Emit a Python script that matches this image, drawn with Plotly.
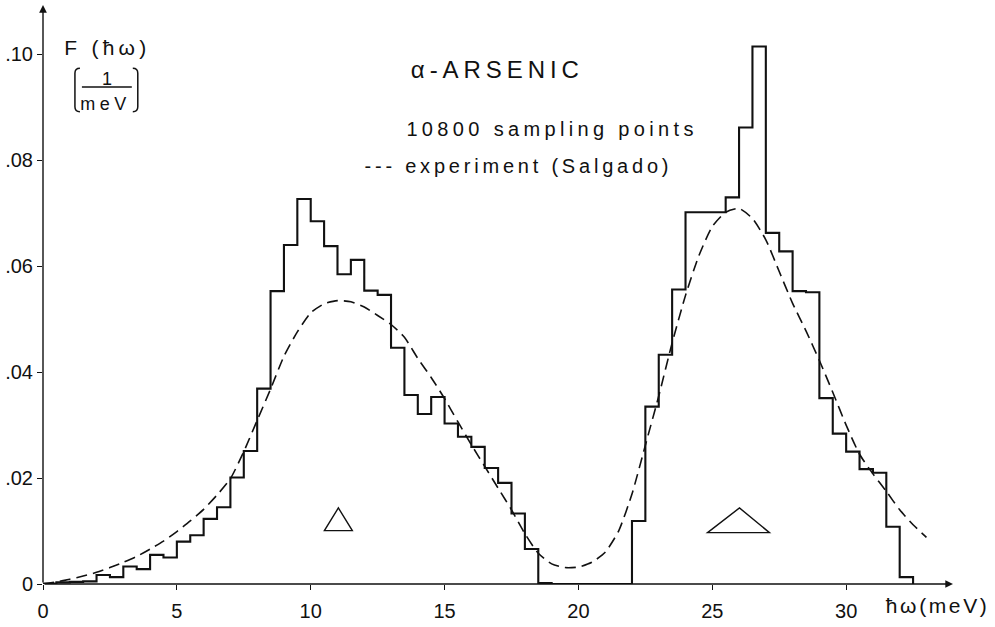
import json
import plotly.graph_objects as go

# Computed frequency distribution F(hw), bins of 0.5 meV starting at 0 meV
bin_width = 0.5
hist_values = [
    0.0001, 0.0003, 0.0004, 0.0005, 0.0017, 0.0013, 0.0033, 0.0028,
    0.0055, 0.0050, 0.0080, 0.0092, 0.0123, 0.0145, 0.0201, 0.0251,
    0.0369, 0.0553, 0.0640, 0.0727, 0.0685, 0.0638, 0.0585, 0.0612,
    0.0554, 0.0546, 0.0446, 0.0357, 0.0321, 0.0353, 0.0303, 0.0278,
    0.0259, 0.0219, 0.0191, 0.0133, 0.0066, 0.0002, 0.0, 0.0,
    0.0, 0.0, 0.0, 0.0, 0.0119, 0.0335, 0.0433, 0.0556,
    0.0702, 0.0702, 0.0702, 0.0730, 0.0862, 0.1015, 0.0663, 0.0628,
    0.0553, 0.0551, 0.0351, 0.0284, 0.0250, 0.0217, 0.0210, 0.0108,
    0.0013,
]

# Measured spectrum (Salgado)
exp_energy = [
    0, 0.5, 1, 1.5, 2, 2.5, 3, 3.5, 4, 4.5, 5, 5.5, 6, 6.5, 7, 7.5, 8, 8.5,
    9, 9.5, 10, 10.5, 11, 11.5, 12, 12.5, 13, 13.5, 14, 14.5, 15, 15.5, 16,
    16.5, 17, 17.5, 18, 18.5, 19, 19.5, 20, 20.5, 21, 21.5, 22, 22.5, 23,
    23.5, 24, 24.5, 25, 25.5, 26, 26.5, 27, 27.5, 28, 28.5, 29, 29.5, 30,
    30.5, 31, 31.5, 32, 32.5, 33,
]
exp_values = [
    0.0, 0.0004, 0.0009, 0.0015, 0.0022, 0.0031, 0.0041, 0.0052, 0.0066,
    0.0081, 0.0099, 0.0119, 0.0141, 0.0168, 0.0199, 0.0250, 0.0309, 0.0368,
    0.0430, 0.0476, 0.0512, 0.0529, 0.0535, 0.0533, 0.0523, 0.0507, 0.0490,
    0.0466, 0.0426, 0.0390, 0.0350, 0.0306, 0.0263, 0.0222, 0.0181, 0.0140,
    0.0095, 0.0058, 0.0038, 0.0031, 0.0032, 0.0041, 0.0060, 0.0100, 0.0170,
    0.0262, 0.0355, 0.0455, 0.0545, 0.0620, 0.0675, 0.0702, 0.0709, 0.0690,
    0.0650, 0.0590, 0.0530, 0.0478, 0.0422, 0.0362, 0.0300, 0.0245, 0.0208,
    0.0175, 0.0140, 0.0112, 0.0088,
]

x_ticks = [0, 5, 10, 15, 20, 25, 30]
x_tick_text = ["0", "5", "10", "15", "20", "25", "30"]
y_ticks = [0, 0.02, 0.04, 0.06, 0.08, 0.10]
y_tick_text = ["0", ".02", ".04", ".06", ".08", ".10"]

# ---- page geometry ----
W, H = 995, 627
ML, MR, MT, MB = 41, 34, 5, 36
PW, PH = W - ML - MR, H - MT - MB
X_MAX = 34.29
Y_MAX = 0.10933


def dx(px):
    """page pixel column -> energy axis value"""
    return (px - ML) / PW * X_MAX


def dy(py):
    """page pixel row -> F axis value"""
    return (H - MB - py) / PH * Y_MAX


def ppx(px):
    """page pixel column -> paper fraction"""
    return (px - ML) / PW


def ppy(py):
    """page pixel row -> paper fraction"""
    return (H - MB - py) / PH


FONT = "Liberation Sans"
INK = "#111111"

edges = [i * bin_width for i in range(len(hist_values) + 1)]

fig = go.Figure()
fig.add_trace(go.Scatter(
    x=exp_energy, y=exp_values, mode="lines",
    line=dict(color=INK, width=1.6, dash="11px,6px", shape="spline", smoothing=0.6),
    cliponaxis=False, hoverinfo="skip", showlegend=False,
))
fig.add_trace(go.Scatter(
    x=edges, y=hist_values + [0.0], mode="lines",
    line=dict(color=INK, width=2.1, shape="hv"),
    cliponaxis=False, hoverinfo="skip", showlegend=False,
))

shapes = []
# resolution triangles
for pts in ([(323, 537), (351, 537), (337, 514)],
            [(707, 539), (769, 539), (739, 514)]):
    path = "M {} {} L {} {} L {} {} Z".format(
        dx(pts[0][0]), dy(pts[0][1]), dx(pts[1][0]), dy(pts[1][1]),
        dx(pts[2][0]), dy(pts[2][1]))
    shapes.append(dict(type="path", path=path, xref="x", yref="y",
                       line=dict(color=INK, width=1.4)))

# fraction bar and brackets of the unit 1/meV
shapes.append(dict(type="line", xref="x", yref="y",
                   x0=dx(80), x1=dx(130), y0=dy(88), y1=dy(88),
                   line=dict(color=INK, width=1.5)))
left_br = "M {} {} Q {} {} {} {} L {} {} Q {} {} {} {}".format(
    dx(78), dy(69), dx(73), dy(69), dx(73), dy(74),
    dx(73), dy(108), dx(73), dy(113), dx(78), dy(113))
right_br = "M {} {} Q {} {} {} {} L {} {} Q {} {} {} {}".format(
    dx(131), dy(69), dx(136), dy(69), dx(136), dy(74),
    dx(136), dy(108), dx(136), dy(113), dx(131), dy(113))
for p in (left_br, right_br):
    shapes.append(dict(type="path", path=p, xref="x", yref="y",
                       line=dict(color=INK, width=1.5)))

annotations = [
    # axes drawn as arrows
    dict(x=dx(953), y=0, ax=0, ay=0, xref="x", yref="y", axref="x", ayref="y",
         text="", showarrow=True, arrowhead=2, arrowsize=1.1, arrowwidth=1.4,
         arrowcolor=INK, standoff=0, startstandoff=0),
    dict(x=0, y=dy(5), ax=0, ay=0, xref="x", yref="y", axref="x", ayref="y",
         text="", showarrow=True, arrowhead=2, arrowsize=1.1, arrowwidth=1.4,
         arrowcolor=INK, standoff=0, startstandoff=0),
]
# annotation index -> spread width of its text in pixels
text_widths = {}


def label(text, cx, cy, size, width=None):
    if width is not None:
        text_widths[len(annotations)] = width
    annotations.append(dict(
        x=ppx(cx), y=ppy(cy), xref="paper", yref="paper", text=text,
        showarrow=False, xanchor="center", yanchor="middle",
        font=dict(family=FONT, size=size, color=INK)))


label("F (ħω)", 106, 48, 21, 82)
label("1", 105, 80, 18)
label("meV", 104, 105, 18, 46)
label("α-ARSENIC", 496, 70, 24, 168)
label("10800 sampling points", 551, 130, 20, 287)
label("--- experiment (Salgado)", 518, 168, 20, 304)
label("ħω(meV)", 937, 613, 21, 101)

fig.update_layout(
    width=W, height=H,
    margin=dict(l=ML, r=MR, t=MT, b=MB, pad=0),
    paper_bgcolor="white", plot_bgcolor="white",
    shapes=shapes, annotations=annotations,
    font=dict(family=FONT, size=20, color=INK),
    xaxis=dict(range=[0, X_MAX], tickvals=x_ticks, ticktext=x_tick_text,
               showgrid=False, zeroline=False, showline=False,
               ticks="outside", ticklen=5, tickwidth=1.2, tickcolor=INK,
               ticklabelstandoff=4,
               tickfont=dict(family=FONT, size=20, color=INK)),
    yaxis=dict(range=[0, Y_MAX], tickvals=y_ticks, ticktext=y_tick_text,
               showgrid=False, zeroline=False, showline=False,
               ticks="outside", ticklen=5, tickwidth=1.2, tickcolor=INK,
               tickfont=dict(family=FONT, size=20, color=INK)),
)

# widen the letter spacing of the labels to their printed widths
spacing_js = """
var gd = document.getElementById('{plot_id}');
var widths = %s;
gd.querySelectorAll('.annotation').forEach(function (g) {
    var w = widths[g.getAttribute('data-index')];
    var t = g.querySelector('.annotation-text');
    if (!w || !t) return;
    var n = t.textContent.length;
    var len = t.getComputedTextLength();
    if (n > 1 && w > len) {
        t.style.letterSpacing = ((w - len) / (n - 1)) + 'px';
    }
});
""" % json.dumps(text_widths)

fig.write_html("out.html", post_script=spacing_js)
